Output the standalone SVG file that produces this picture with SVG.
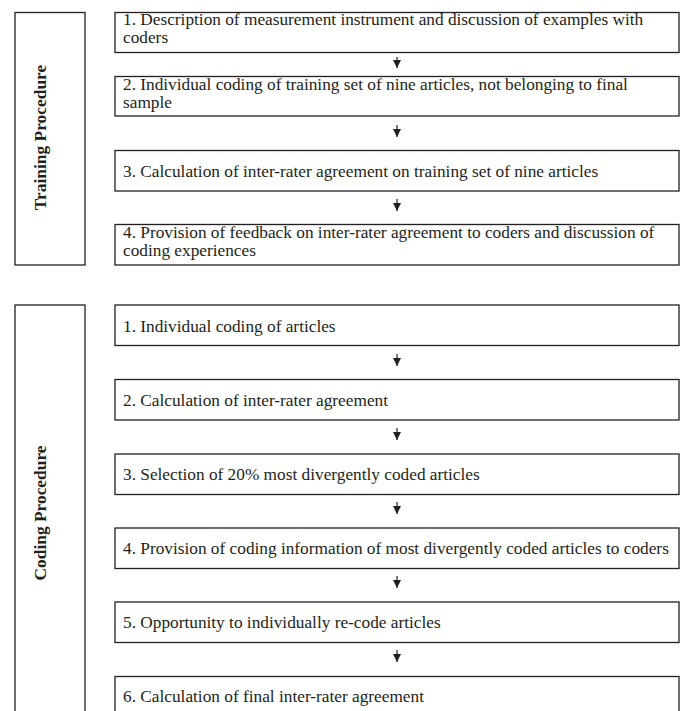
<svg xmlns="http://www.w3.org/2000/svg" width="681" height="711" viewBox="0 0 681 711">
<style>
.box{fill:#fff;stroke:#231f20;stroke-width:1.3}
.t{font-family:"Liberation Serif","Times New Roman",serif;font-size:17.3px;fill:#231f20}
.v{font-family:"Liberation Serif","Times New Roman",serif;font-size:17.4px;font-weight:bold;fill:#231f20;text-anchor:middle}
.c{stroke:#231f20;stroke-width:1.2;fill:none}
</style>
<defs>
<marker id="ah" markerWidth="9" markerHeight="9" refX="8" refY="4" orient="auto" markerUnits="userSpaceOnUse">
<path d="M0,0 L8,4 L0,8 Z" fill="#231f20"/>
</marker>
</defs>
<rect width="681" height="711" fill="#fff"/>
<g id="training-label">
<rect class="box" x="15" y="12.5" width="70" height="252.5"/>
<text class="v" transform="translate(45.5,137.5) rotate(-90)">Training Procedure</text>
</g>
<g id="t1">
<rect class="box" x="115" y="12.5" width="564" height="40"/>
<text class="t" x="123" y="25">1. Description of measurement instrument and discussion of examples with</text>
<text class="t" x="123" y="43">coders</text>
</g>
<g id="t2">
<rect class="box" x="115" y="76.5" width="564" height="39.5"/>
<text class="t" x="123" y="90">2. Individual coding of training set of nine articles, not belonging to final</text>
<text class="t" x="123" y="108">sample</text>
</g>
<g id="t3">
<rect class="box" x="115" y="150.5" width="564" height="40.5"/>
<text class="t" x="123" y="176.5">3. Calculation of inter-rater agreement on training set of nine articles</text>
</g>
<g id="t4">
<rect class="box" x="115" y="224.5" width="564" height="40.5"/>
<text class="t" x="123" y="238">4. Provision of feedback on inter-rater agreement to coders and discussion of</text>
<text class="t" x="123" y="256">coding experiences</text>
</g>
<g id="coding-label">
<rect class="box" x="15" y="305" width="70" height="430"/>
<text class="v" transform="translate(45.5,513) rotate(-90)">Coding Procedure</text>
</g>
<g id="c1">
<rect class="box" x="115" y="305" width="564" height="40.5"/>
<text class="t" x="123" y="331.5">1. Individual coding of articles</text>
</g>
<g id="c2">
<rect class="box" x="115" y="379.5" width="564" height="40.5"/>
<text class="t" x="123" y="405.5">2. Calculation of inter-rater agreement</text>
</g>
<g id="c3">
<rect class="box" x="115" y="454" width="564" height="40.5"/>
<text class="t" x="123" y="480">3. Selection of 20% most divergently coded articles</text>
</g>
<g id="c4">
<rect class="box" x="115" y="528" width="564" height="40.5"/>
<text class="t" x="123" y="554">4. Provision of coding information of most divergently coded articles to coders</text>
</g>
<g id="c5">
<rect class="box" x="115" y="602" width="564" height="40.5"/>
<text class="t" x="123" y="628">5. Opportunity to individually re-code articles</text>
</g>
<g id="c6">
<rect class="box" x="115" y="676.5" width="564" height="45"/>
<text class="t" x="123" y="702">6. Calculation of final inter-rater agreement</text>
</g>
<g id="connectors">
<line class="c" x1="397" y1="57" x2="397" y2="68" marker-end="url(#ah)"/>
<line class="c" x1="397" y1="125" x2="397" y2="137" marker-end="url(#ah)"/>
<line class="c" x1="397" y1="199" x2="397" y2="211" marker-end="url(#ah)"/>
<line class="c" x1="397" y1="354" x2="397" y2="366" marker-end="url(#ah)"/>
<line class="c" x1="397" y1="428" x2="397" y2="440" marker-end="url(#ah)"/>
<line class="c" x1="397" y1="502" x2="397" y2="514" marker-end="url(#ah)"/>
<line class="c" x1="397" y1="576" x2="397" y2="588" marker-end="url(#ah)"/>
<line class="c" x1="397" y1="650" x2="397" y2="662" marker-end="url(#ah)"/>
</g>
</svg>
